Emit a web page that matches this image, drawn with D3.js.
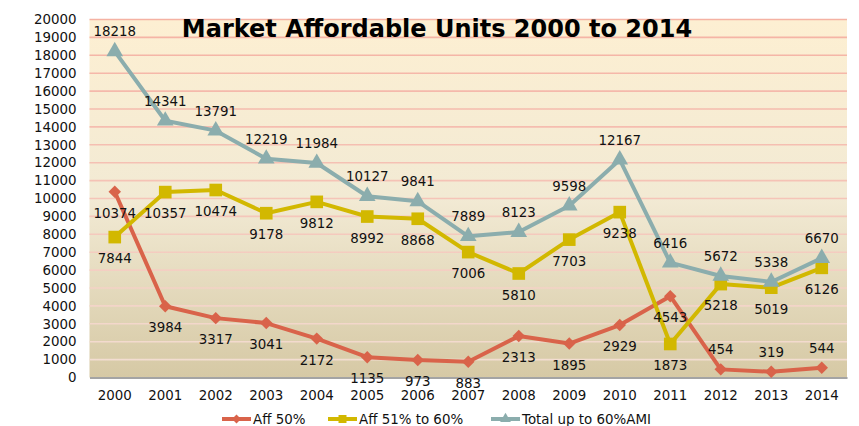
<!DOCTYPE html>
<html>
    <head>
        <meta charset="utf-8">
        <script src="https://cdn.jsdelivr.net/npm/d3@7"></script>
        <style>
            body { margin: 0; background: white; }
            text { font-family: "DejaVu Sans", Verdana, sans-serif; }
        </style>
        <script>
            var years = ["2000", "2001", "2002", "2003", "2004", "2005", "2006", "2007",
                         "2008", "2009", "2010", "2011", "2012", "2013", "2014"];
            var aff50 = [10374, 3984, 3317, 3041, 2172, 1135, 973, 883, 2313, 1895, 2929, 4543, 454, 319, 544];
            var aff51to60 = [7844, 10357, 10474, 9178, 9812, 8992, 8868, 7006, 5810, 7703, 9238, 1873, 5218, 5019, 6126];
            var total60 = [18218, 14341, 13791, 12219, 11984, 10127, 9841, 7889, 8123, 9598, 12167, 6416, 5672, 5338, 6670];
            var seriesNames = ["Aff 50%", "Aff 51% to 60%", "Total up to 60%AMI"];
            var yTicks = d3.range(0, 20001, 1000);

            // which side the value label sits on (b = below, t = above)
            var aff50Side = ["b","b","b","b","b","b","b","b","b","b","b","b","t","t","t"];

            function makeSVG() {
                var svg = d3.select("#fig");
                var left = 89.5, right = 847, top = 19.5, bottom = 377.5;

                var defs = svg.append("defs");
                var bg = defs.append("linearGradient").attr("id", "bg")
                    .attr("x1", 0).attr("y1", 0).attr("x2", 0).attr("y2", 1);
                bg.append("stop").attr("offset", "0%").attr("stop-color", "#fdefd2");
                bg.append("stop").attr("offset", "50%").attr("stop-color", "#f2ead4");
                bg.append("stop").attr("offset", "100%").attr("stop-color", "#d6c9a5");

                var gg = defs.append("linearGradient").attr("id", "grid")
                    .attr("gradientUnits", "userSpaceOnUse")
                    .attr("x1", 0).attr("y1", top).attr("x2", 0).attr("y2", bottom);
                gg.append("stop").attr("offset", "0%").attr("stop-color", "#f5b2a3");
                gg.append("stop").attr("offset", "55%").attr("stop-color", "#f5c6ba");
                gg.append("stop").attr("offset", "100%").attr("stop-color", "#f2e0d4");

                var x = d3.scaleBand().domain(years).range([left, right]);
                var y = d3.scaleLinear().domain([0, 20000]).range([bottom, top]);
                var cx = d => x(d) + x.bandwidth() / 2;

                svg.append("rect")
                   .attr("x", left).attr("y", top)
                   .attr("width", right - left).attr("height", bottom - top)
                   .attr("fill", "url(#bg)");

                svg.append("g").selectAll("line").data(yTicks.slice(1))
                   .enter().append("line")
                   .attr("x1", left).attr("x2", right)
                   .attr("y1", d => y(d)).attr("y2", d => y(d))
                   .attr("stroke", "url(#grid)")
                   .attr("stroke-width", 1.6);

                // axes
                var ya = svg.append("g")
                   .attr("transform", "translate(" + left + ",0)")
                   .call(d3.axisLeft(y).tickValues(yTicks).tickFormat(d3.format("d"))
                           .tickSize(0).tickPadding(13));
                ya.select(".domain").remove();
                ya.selectAll("text").attr("font-size", "13.4px").attr("fill", "#111");

                var xa = svg.append("g")
                   .attr("transform", "translate(0," + bottom + ")")
                   .call(d3.axisBottom(x).tickSize(0).tickPadding(13));
                xa.select(".domain").attr("stroke", "#a4a4a4").attr("stroke-width", 2);
                xa.selectAll("text").attr("font-size", "13.4px").attr("fill", "#111");

                // title
                svg.append("text")
                   .attr("x", 437).attr("y", 37)
                   .attr("text-anchor", "middle")
                   .attr("font-size", "24px")
                   .attr("font-weight", "bold")
                   .attr("fill", "#000")
                   .text("Market Affordable Units 2000 to 2014");

                var series = [
                    {name: seriesNames[0], vals: aff50, color: "#d9634a", sym: "diamond", side: aff50Side},
                    {name: seriesNames[1], vals: aff51to60, color: "#d2b800", sym: "square", side: years.map(() => "b")},
                    {name: seriesNames[2], vals: total60, color: "#8badad", sym: "triangle", side: years.map(() => "t")}
                ];

                function symPath(s) {
                    if (s == "diamond") return d3.symbol(d3.symbolSquare, 78)();
                    if (s == "square") return d3.symbol(d3.symbolSquare, 160)();
                    return d3.symbol(d3.symbolTriangle, 120)();
                }

                var line = d3.line().x((d, i) => cx(years[i])).y(d => y(d));

                series.forEach(function(s) {
                    var g = svg.append("g");
                    g.append("path")
                     .attr("d", line(s.vals))
                     .attr("fill", "none")
                     .attr("stroke", s.color)
                     .attr("stroke-width", 4)
                     .attr("stroke-linejoin", "round");

                    g.selectAll("path.mk").data(s.vals)
                     .enter().append("path").attr("class", "mk")
                     .attr("d", symPath(s.sym))
                     .attr("transform", (d, i) => "translate(" + cx(years[i]) + "," + y(d) + ")" +
                           (s.sym == "diamond" ? " rotate(45)" : ""))
                     .attr("fill", s.color);
                });

                series.forEach(function(s) {
                    svg.append("g").selectAll("text").data(s.vals)
                       .enter().append("text")
                       .attr("x", (d, i) => cx(years[i]))
                       .attr("y", (d, i) => y(d) + (s.side[i] == "t" ? -15 : 26))
                       .attr("text-anchor", "middle")
                       .attr("font-size", "13.4px")
                       .attr("fill", "#111")
                       .text(d => d);
                });

                // legend
                var legX = [222, 328, 491];
                var leg = svg.append("g").selectAll("g").data(series)
                   .enter().append("g")
                   .attr("transform", (d, i) => "translate(" + legX[i] + ",419)");
                leg.append("line")
                   .attr("x1", 0).attr("x2", 29).attr("y1", 0).attr("y2", 0)
                   .attr("stroke", d => d.color).attr("stroke-width", 4);
                leg.append("path")
                   .attr("d", d => d.sym == "diamond" ? d3.symbol(d3.symbolSquare, 40)()
                                 : d.sym == "square" ? d3.symbol(d3.symbolSquare, 64)()
                                 : d3.symbol(d3.symbolTriangle, 50)())
                   .attr("transform", d => "translate(14.5,0)" + (d.sym == "diamond" ? " rotate(45)" : ""))
                   .attr("fill", d => d.color);
                leg.append("text")
                   .attr("x", 31).attr("y", 5)
                   .attr("font-size", "13.4px")
                   .attr("fill", "#111")
                   .text(d => d.name);
            }
        </script>
    </head>
    <body onload="makeSVG()">
        <svg id="fig" width="859" height="426"></svg>
    </body>
</html>
